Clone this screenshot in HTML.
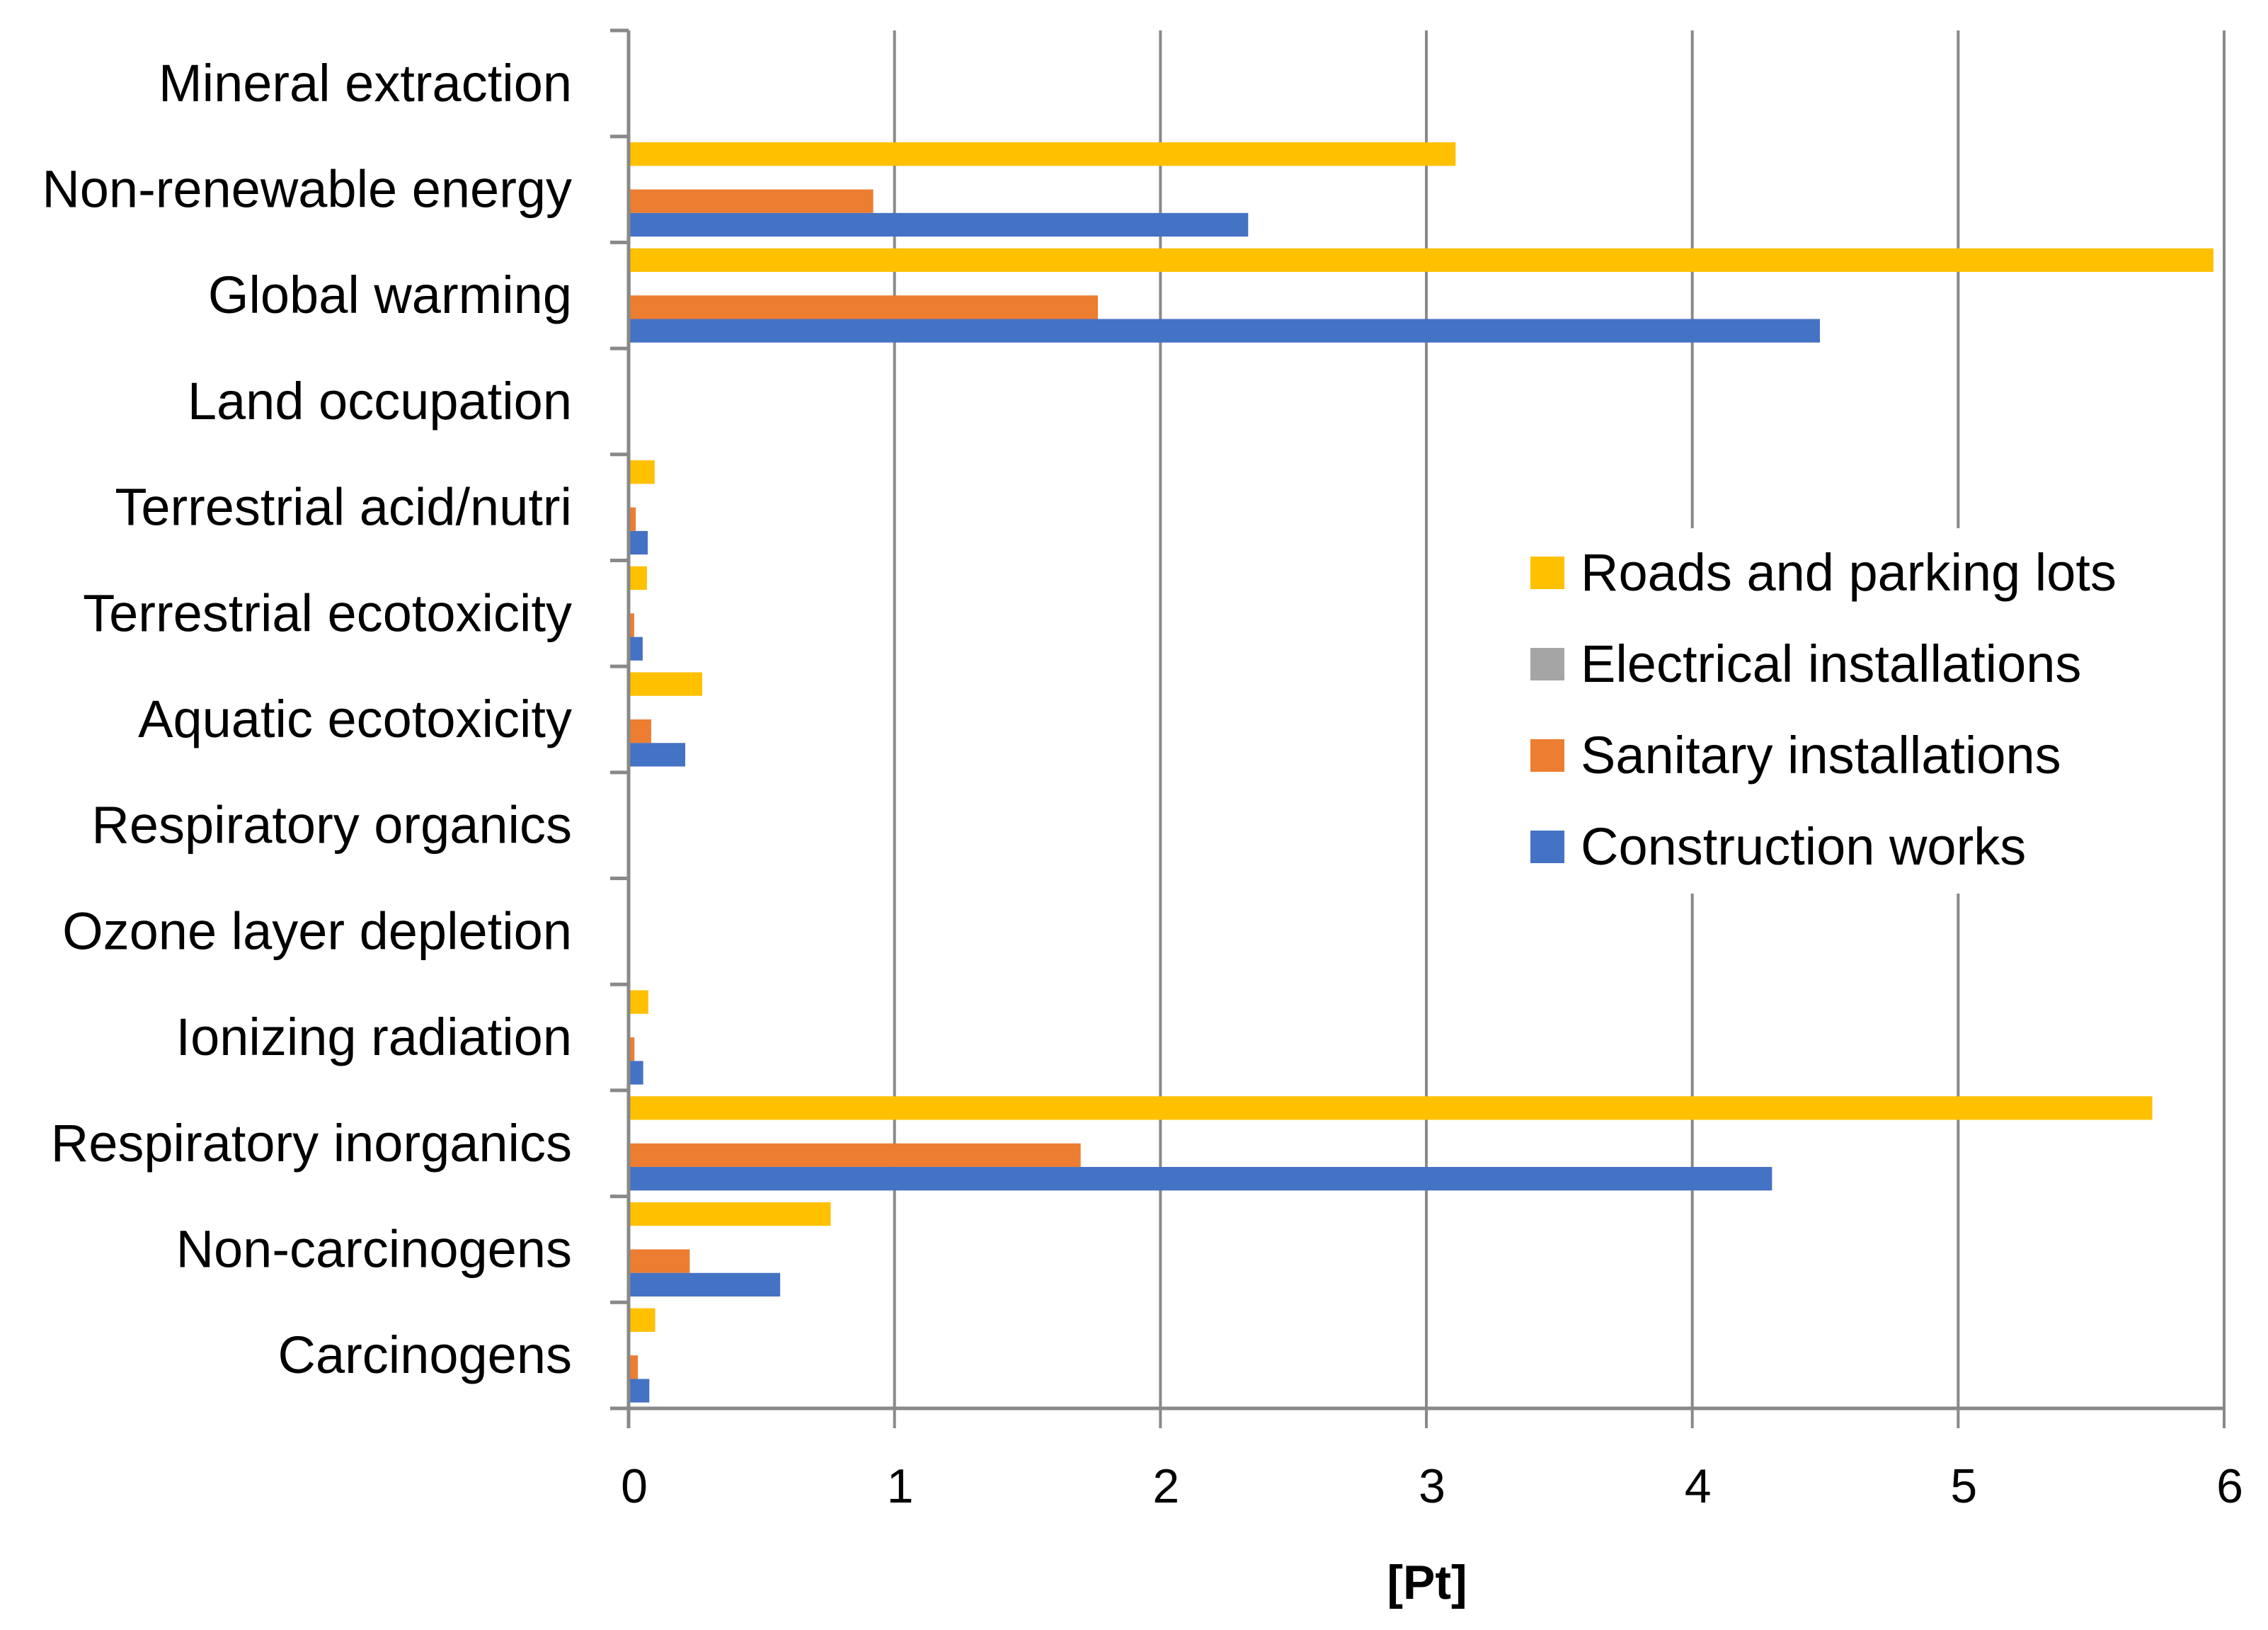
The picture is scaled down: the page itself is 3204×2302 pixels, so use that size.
<!DOCTYPE html>
<html><head><meta charset="utf-8"><style>
html,body{margin:0;padding:0;background:#fff;}
svg{display:block;font-family:"Liberation Sans",sans-serif;}
</style></head><body>
<svg id="chart" width="3204" height="2302" viewBox="0 0 3204 2302" xmlns="http://www.w3.org/2000/svg">
<g id="grid"></g>
<g id="bars"></g>
<g id="axes"></g>
<g id="legend"></g>
<text x="2016" y="2258" text-anchor="middle" font-size="68" font-weight="bold" fill="#000">[Pt]</text>
</svg>
<script>
const categories = ["Mineral extraction","Non-renewable energy","Global warming","Land occupation","Terrestrial acid/nutri","Terrestrial ecotoxicity","Aquatic ecotoxicity","Respiratory organics","Ozone layer depletion","Ionizing radiation","Respiratory inorganics","Non-carcinogens","Carcinogens"];
const seriesNames = ["Roads and parking lots","Electrical installations","Sanitary installations","Construction works"];
const seriesColors = ["#FFC000","#A5A5A5","#ED7D31","#4472C4"];
const roads = [0,3.11,5.96,0,0.098,0.069,0.277,0,0,0.074,5.73,0.76,0.10];
const electrical = [0,0,0.004,0,0,0,0,0,0,0,0,0,0];
const sanitary = [0,0.92,1.765,0,0.027,0.021,0.085,0,0,0.022,1.70,0.23,0.035];
const construction = [0,2.33,4.48,0,0.072,0.053,0.213,0,0,0.055,4.30,0.57,0.078];
const xTicks = [0,1,2,3,4,5,6];

const NS="http://www.w3.org/2000/svg";
const X0=888, X1=3142, XMAX=6, Y0=43, Y1=1989;
const band=(Y1-Y0)/categories.length;
function xs(v){return X0+(X1-X0)*v/XMAX;}
function yc(i){return Y0+band*i;}
function mk(tag,attrs,parent){const e=document.createElementNS(NS,tag);for(const k in attrs)e.setAttribute(k,attrs[k]);parent.appendChild(e);return e;}
const grid=document.getElementById('grid'),bars=document.getElementById('bars'),axes=document.getElementById('axes'),legend=document.getElementById('legend');

xTicks.forEach(t=>{
  if(t===0)return;
  const l=mk('line',{x1:xs(t),x2:xs(t),y1:Y0,y2:Y1+28,stroke:'#898989','stroke-width':4},grid);
  
  
});
xTicks.forEach(t=>{
  const tx=mk('text',{x:xs(t)+8,y:2122,'text-anchor':'middle','font-size':68,fill:'#000'},axes);
  tx.textContent=t;
  
  
});

const series=[roads,electrical,sanitary,construction];
const slot=band/4.5, pad=slot*0.25;
categories.forEach((c,i)=>{
  series.forEach((s,k)=>{
    const v=s[i]; if(v<=0)return;
    const r=mk('rect',{x:X0+2,y:yc(i)+pad+slot*k,width:Math.max(xs(v)-X0-2,1),height:slot,fill:seriesColors[k]},bars);
    
    
  });
  const lab=mk('text',{x:808,y:yc(i)+band/2+25,'text-anchor':'end','font-size':74,fill:'#000'},axes);
  lab.textContent=c;
  
  
});

const ya=mk('line',{x1:X0,x2:X0,y1:Y0,y2:Y1+28,stroke:'#898989','stroke-width':5},axes);


for(let i=0;i<=categories.length;i++){
  const tk=mk('line',{x1:862,x2:X0,y1:yc(i),y2:yc(i),stroke:'#898989','stroke-width':5},axes);
  
  
}
const xa=mk('line',{x1:862,x2:X1,y1:Y1,y2:Y1,stroke:'#898989','stroke-width':5},axes);



const lbg=mk('rect',{x:2140,y:746,width:990,height:516,fill:'#fff'},legend);


seriesNames.forEach((n,k)=>{
  const y=786+129*k;
  const g=mk('g',{},legend);
  
  
  const sw=mk('rect',{x:2162,y:y,width:48,height:46,fill:seriesColors[k]},g);
  
  
  const t=mk('text',{x:2233,y:y+48,'font-size':74,fill:'#000'},g);
  t.textContent=n;
  
  
});
</script>
</body></html>
